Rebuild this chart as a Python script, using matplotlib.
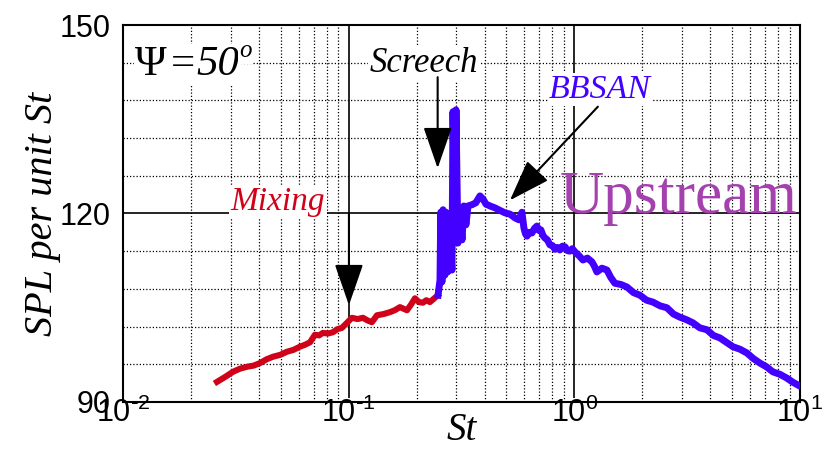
import matplotlib
matplotlib.use('Agg')
import matplotlib.pyplot as plt
from matplotlib.ticker import MultipleLocator, LogLocator, NullFormatter, FuncFormatter
from math import log10

## mixing noise part (low St)
red_st = [0.0261, 0.0284, 0.0307, 0.0330, 0.0354, 0.0380, 0.0405, 0.0433,
          0.0462, 0.0497, 0.0533, 0.0570, 0.0608, 0.0640, 0.0674, 0.0709,
          0.0740, 0.0769, 0.0810, 0.0852, 0.0893, 0.0934, 0.0983, 0.1034,
          0.1095, 0.1157, 0.1210, 0.1268, 0.1335, 0.1430, 0.1524, 0.1600,
          0.1688, 0.1813, 0.1890, 0.1967, 0.2050, 0.2134, 0.2210, 0.2292,
          0.2487]
red_spl = [93.2, 94.0, 94.8, 95.3, 95.6, 95.8, 96.2, 96.8,
           97.2, 97.5, 98.0, 98.3, 98.8, 99.1, 99.5, 100.7,
           100.6, 101.0, 100.9, 101.1, 101.6, 101.8, 102.6, 103.4,
           103.2, 103.4, 103.0, 102.7, 103.8, 104.0, 104.3, 104.6,
           105.1, 104.6, 105.5, 106.5, 105.9, 105.8, 106.2, 105.9,
           107.0]

## screech + broadband shock noise part
blue_st = [0.249, 0.254, 0.256, 0.259, 0.262, 0.267, 0.270, 0.275, 0.281, 0.287,
           0.290, 0.296, 0.299, 0.305, 0.311, 0.318, 0.324, 0.331, 0.338, 0.352,
           0.366, 0.382, 0.394, 0.406, 0.423, 0.445, 0.468, 0.493, 0.519, 0.546,
           0.568, 0.586, 0.598, 0.607, 0.617, 0.632, 0.649, 0.665, 0.683, 0.697,
           0.711, 0.726, 0.741, 0.760, 0.780, 0.800, 0.821, 0.842, 0.863, 0.886,
           0.909, 0.932, 0.956, 0.980, 1.006, 1.048, 1.092, 1.143, 1.197, 1.228,
           1.259, 1.325, 1.395, 1.452, 1.513, 1.610, 1.711, 1.830, 1.953, 2.090,
           2.230, 2.400, 2.572, 2.750, 2.937, 3.140, 3.354, 3.600, 3.868, 4.130,
           4.417, 4.720, 5.043, 5.420, 5.818, 6.220, 6.642, 7.100, 7.584, 8.150,
           8.748, 9.250, 9.790]
blue_spl = [107.0, 109.4, 120.2, 109.1, 120.6, 110.2, 120.2, 110.7, 116.6, 111.0,
            136.2, 115.8, 136.5, 115.3, 120.9, 115.8, 121.2, 118.2, 121.2, 121.4,
            121.7, 122.8, 122.3, 121.5, 121.2, 120.9, 120.5, 120.1, 119.9, 119.3,
            119.0, 120.2, 117.7, 116.8, 116.4, 117.0, 116.9, 117.6, 118.0, 117.3,
            117.4, 116.5, 116.1, 115.8, 115.0, 114.9, 114.3, 114.6, 114.2, 114.8,
            114.7, 114.1, 114.0, 114.4, 113.9, 113.3, 112.6, 112.9, 112.3, 111.6,
            110.7, 111.3, 111.0, 109.8, 108.9, 108.7, 108.3, 107.4, 107.0, 106.2,
            105.9, 105.3, 105.0, 104.0, 103.5, 103.1, 102.6, 101.8, 101.5, 100.6,
            100.2, 99.5, 98.8, 98.4, 97.8, 96.9, 96.2, 95.6, 94.8, 94.4,
            93.8, 93.2, 92.7]

y_ticks = [90, 120, 150]

red = '#d0021a'
blue = '#4400ff'
purple = '#a541af'
serif = 'Liberation Serif'


def decade_label(v, pos):
    # 10^n with a plain hyphen, Liberation Sans has no minus sign glyph
    e = int(round(log10(v)))
    sign = r'\text{-}' if e < 0 else ''
    return r'$\mathdefault{10^{%s%d}}$' % (sign, abs(e))


fig = plt.figure(figsize=(8.36, 4.49), dpi=100)
ax = fig.add_axes([0.1471, 0.1047, 0.8098, 0.8396])

ax.set_xscale('log')
ax.set_xlim(0.01, 10)
ax.set_ylim(90, 150)
ax.set_yticks(y_ticks)
ax.yaxis.set_minor_locator(MultipleLocator(6))
ax.xaxis.set_minor_locator(LogLocator(base=10, subs=range(2, 10)))
ax.xaxis.set_major_formatter(FuncFormatter(decade_label))
ax.xaxis.set_minor_formatter(NullFormatter())

ax.grid(which='major', color='black', lw=1.2, ls='-', zorder=1)
ax.grid(which='minor', color='black', lw=0.9, ls=(0, (1, 1.6)), zorder=1)
ax.set_axisbelow(True)

ax.tick_params(which='both', length=0)
ax.tick_params(axis='y', pad=9, labelsize=22, labelfontfamily='Liberation Sans')
ax.tick_params(axis='x', pad=-3, labelsize=22, labelfontfamily='Liberation Sans')
for s in ax.spines.values():
    s.set_linewidth(1.5)

ax.plot(red_st, red_spl, color=red, lw=4.4, zorder=3)
ax.plot(blue_st, blue_spl, color=blue, lw=5, zorder=3)

ax.set_xlabel('St', fontsize=28, family=serif, style='italic')
ax.set_ylabel('SPL per unit St', fontsize=29, family=serif, style='italic')
ax.xaxis.set_label_coords(0.5, -0.026)
ax.yaxis.set_label_coords(-0.092, 0.5)

box = dict(facecolor='white', edgecolor='none', pad=1)

## angle label: upright psi, italic value, small superscript
psi = ax.text(0.0113, 142.0, '\u03a8', fontsize=31, family=serif,
              va='baseline', bbox=box, zorder=4)
eq = ax.annotate('=', xy=(1, 0), xycoords=psi, xytext=(3, 0),
                 textcoords='offset points', fontsize=31, family=serif,
                 va='bottom', bbox=box, zorder=4)
val = ax.annotate('50', xy=(1, 0), xycoords=eq, xytext=(1, 0),
                  textcoords='offset points', fontsize=31, family=serif,
                  style='italic', va='bottom', bbox=box, zorder=4)
ax.annotate('o', xy=(1, 1), xycoords=val, xytext=(0, 4),
            textcoords='offset points', fontsize=18, family=serif,
            style='italic', va='top', bbox=box, zorder=4)

ax.text(0.2157, 142.5, 'Screech', fontsize=25, family=serif,
        style='italic', ha='center', va='baseline', bbox=box, zorder=4)
ax.text(0.0486, 120.6, 'Mixing', fontsize=24, family=serif,
        style='italic', color=red, ha='center', va='baseline', bbox=box, zorder=4)
ax.text(1.298, 138.4, 'BBSAN', fontsize=24.5, family=serif,
        style='italic', color=blue, ha='center', va='baseline', bbox=box, zorder=4)
ax.text(0.8634, 120.1, 'Upstream', fontsize=44, family=serif,
        color=purple, ha='left', va='baseline', zorder=4)

arrow = dict(arrowstyle='-|>,head_length=2.6,head_width=0.9', mutation_scale=10,
             lw=1.5, color='black', shrinkA=0, shrinkB=0)
ax.annotate('', xy=(0.248, 127.2), xytext=(0.248, 141.7), arrowprops=arrow, zorder=5)
ax.annotate('', xy=(0.1003, 105.4), xytext=(0.1003, 120.0), arrowprops=arrow, zorder=5)
ax.annotate('', xy=(0.5185, 122.1), xytext=(1.272, 137.0), arrowprops=arrow, zorder=5)

for lbl in ax.get_xticklabels():
    lbl.set_bbox(dict(facecolor='white', edgecolor='none', pad=0))

fig.savefig('out.png', dpi=100)
plt.close()
